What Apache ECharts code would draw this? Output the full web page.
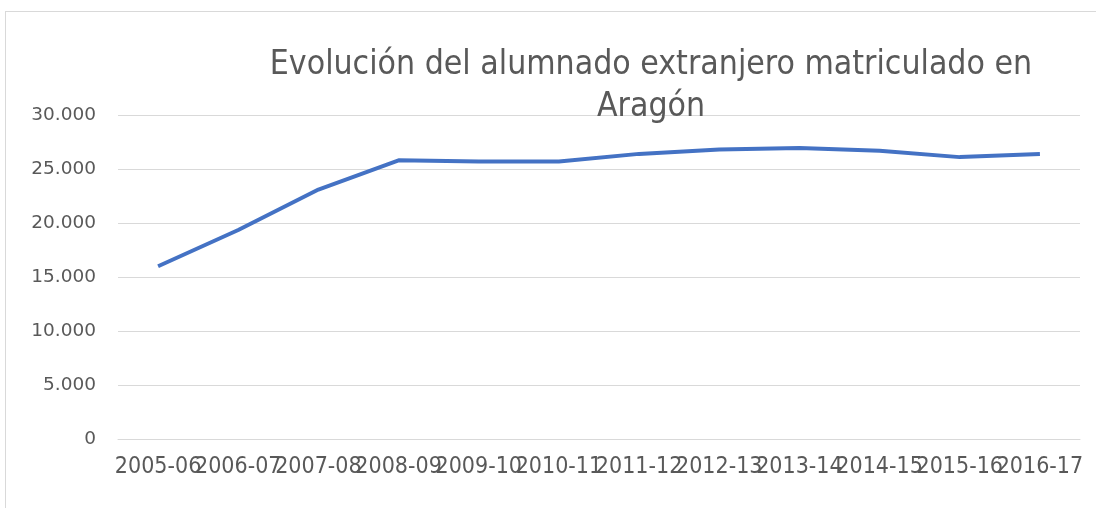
<!DOCTYPE html>
<html>
<head>
<meta charset="utf-8">
<script src="https://cdn.jsdelivr.net/npm/echarts@6/dist/echarts.min.js"></script>
<style>
  html, body { margin: 0; padding: 0; background: #fff; }
  #chart { width: 1096px; height: 508px; }
  .frame {
    position: absolute; left: 5px; top: 11px; right: 0; bottom: 0;
    border-left: 1px solid #d9d9d9; border-top: 1px solid #d9d9d9;
    pointer-events: none;
  }
</style>
</head>
<body>
<div id="chart"></div>
<div class="frame"></div>
<script>
// cursos escolares
const cursos = [
  "2005-06", "2006-07", "2007-08", "2008-09", "2009-10", "2010-11",
  "2011-12", "2012-13", "2013-14", "2014-15", "2015-16", "2016-17"
];

// alumnado extranjero (estimado desde el gráfico)
const alumnos = [
  16000, 19350, 23100, 25800, 25700, 25700,
  26400, 26800, 26950, 26700, 26100, 26400
];

const yTicks = [0, 5000, 10000, 15000, 20000, 25000, 30000];

const fmt = (v) => String(v).replace(/\B(?=(\d{3})+(?!\d))/g, ".");

const chart = echarts.init(document.getElementById("chart"), null, { renderer: "canvas" });

chart.setOption({
  backgroundColor: "#fff",
  animation: false,
  title: {
    text: "Evolución del alumnado extranjero matriculado en\nAragón",
    left: 646,
    top: 39,
    textAlign: "center",
    textStyle: {
      fontFamily: "'Liberation Sans Narrow', 'DejaVu Sans Condensed', sans-serif",
      fontWeight: "normal",
      fontSize: 33.5,
      lineHeight: 42,
      color: "#595959",
    },
  },
  grid: {
    left: 118,
    right: 16,
    top: 115,
    bottom: 69,
  },
  xAxis: {
    type: "category",
    data: cursos,
    boundaryGap: true,
    axisLine: { lineStyle: { color: "#d9d9d9", width: 1 } },
    axisTick: { show: false },
    axisLabel: {
      interval: 0,
      margin: 17,
      color: "#595959",
      fontFamily: "'Liberation Sans Narrow', 'DejaVu Sans Condensed', sans-serif",
      fontSize: 23,
    },
  },
  yAxis: {
    type: "value",
    min: yTicks[0],
    max: yTicks[yTicks.length - 1],
    interval: 5000,
    axisLine: { show: false },
    axisTick: { show: false },
    splitLine: { lineStyle: { color: "#d9d9d9", width: 1 } },
    axisLabel: {
      margin: 22,
      color: "#595959",
      fontFamily: "'DejaVu Sans', sans-serif",
      fontSize: 18.5,
      formatter: (v) => fmt(v),
    },
  },
  series: [
    {
      name: "Alumnado extranjero",
      type: "line",
      data: alumnos,
      showSymbol: false,
      symbol: "none",
      lineStyle: { color: "#4472c4", width: 4 },
      itemStyle: { color: "#4472c4" },
    },
  ],
});
</script>
</body>
</html>
